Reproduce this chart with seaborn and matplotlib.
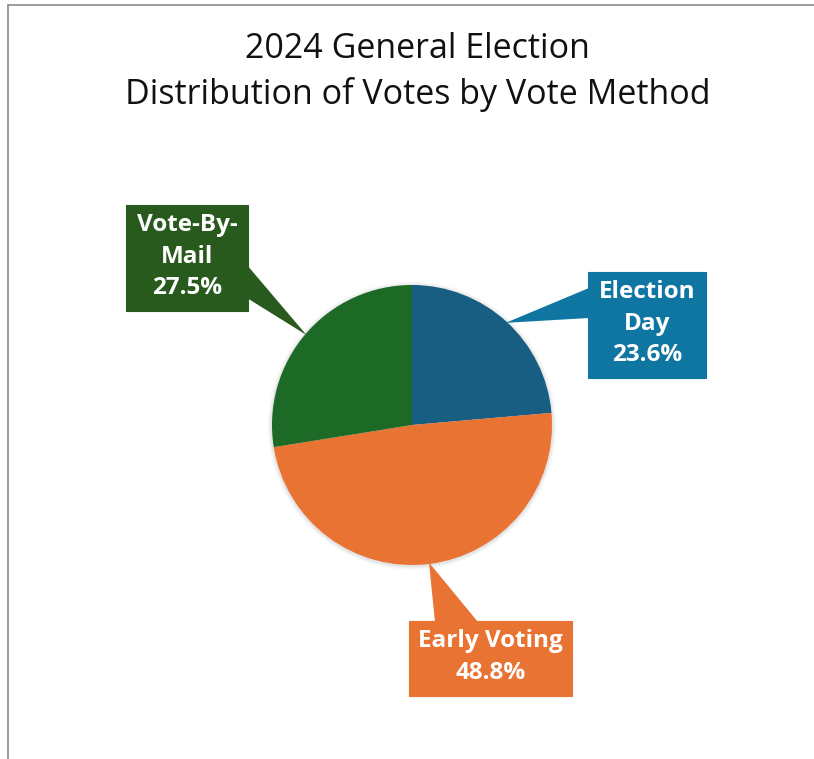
import matplotlib
matplotlib.use('Agg')
import matplotlib.pyplot as plt
import seaborn as sns
import numpy as np
from matplotlib.patches import Rectangle, Polygon, Circle

# Data
methods = ['Election Day', 'Early Voting', 'Vote-By-Mail']
labels = ['Election\nDay', 'Early Voting', 'Vote-By-\nMail']
shares = [23.6, 48.8, 27.5]
slice_colors = ['#175E82', '#E97332', '#1C6A26']
box_colors = ['#0F76A1', '#E97332', '#285A1D']

sns.set_theme(style='white')
plt.rcParams['font.family'] = ['Open Sans', 'DejaVu Sans']

W, H = 814, 759
fig = plt.figure(figsize=(W / 100, H / 100), dpi=100)
ax = fig.add_axes([0, 0, 1, 1])

# pie geometry in pixels (centre and radius), used to map layout to data units
cx, cy, rad = 412, 425, 140


def P(x, y):
    return ((x - cx) / rad, (cy - y) / rad)


# soft shadow
for k, a in zip([1.03, 1.02, 1.01], [0.025, 0.035, 0.05]):
    ax.add_patch(Circle((0, -0.005), k, color='#000000', alpha=a, lw=0, zorder=0))

ax.pie(shares, startangle=90, counterclock=False, colors=slice_colors,
       radius=1, center=(0, 0),
       wedgeprops=dict(linewidth=0))

# callout boxes: (left, top, right, bottom) in px, plus pointer base on box edge
boxes = {
    'Election Day': dict(rect=(588, 272, 706, 378), base=[(589, 288), (589, 318)]),
    'Early Voting': dict(rect=(409, 621, 572, 696), base=[(435, 622), (478, 622)]),
    'Vote-By-Mail': dict(rect=(126, 205, 248, 311), base=[(247, 265), (247, 298)]),
}

total = sum(shares)
cum = 0
for m, lab, v, bc in zip(methods, labels, shares, box_colors):
    mid = np.deg2rad(90 - 360 * (cum + v / 2) / total)
    cum += v
    tip = (0.99 * np.cos(mid), 0.99 * np.sin(mid))
    b = boxes[m]
    l, t, r, btm = b['rect']
    x0, y0 = P(l, btm)
    x1, y1 = P(r, t)
    ax.add_patch(Polygon([P(*b['base'][0]), P(*b['base'][1]), tip],
                         closed=True, color=bc, lw=0, zorder=5))
    ax.add_patch(Rectangle((x0, y0), x1 - x0, y1 - y0, facecolor=bc,
                           edgecolor=bc, lw=0.8, zorder=6))
    ax.text((x0 + x1) / 2, (y0 + y1) / 2 + 0.01, f'{lab}\n{v:.1f}%', color='white',
            fontsize=17.5, fontweight='bold', ha='center', va='center',
            linespacing=1.42, zorder=7)

ax.set_xlim(P(0, 0)[0], P(W, 0)[0])
ax.set_ylim(P(0, H)[1], P(0, 0)[1])
ax.set_aspect('equal')
ax.axis('off')

# titles
fig.text(417 / W, 1 - 49 / H, '2024 General Election', ha='center', va='center',
         fontsize=24.5, color='#111111')
fig.text(418 / W, 1 - 94 / H, 'Distribution of Votes by Vote Method', ha='center',
         va='center', fontsize=24.5, color='#111111')

# chart frame (left and top edges visible)
fig.add_artist(plt.Line2D([7.5 / W, 7.5 / W], [0, 1 - 5 / H], color='#8a8a8a', lw=1.2))
fig.add_artist(plt.Line2D([7.5 / W, 1], [1 - 5 / H, 1 - 5 / H], color='#8a8a8a', lw=1.2))

fig.savefig('out.png', dpi=100, facecolor='white')
